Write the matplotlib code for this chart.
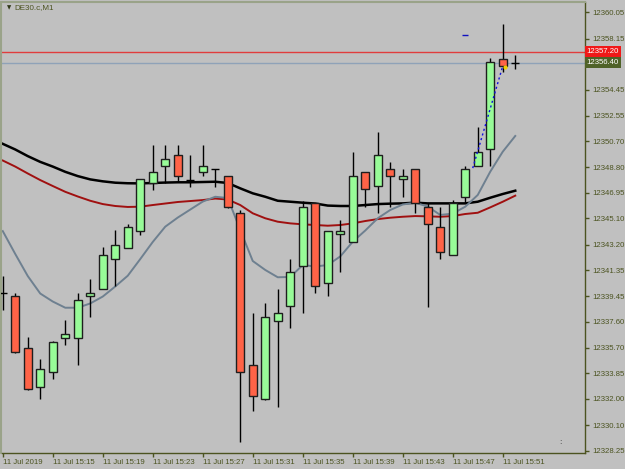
import matplotlib
matplotlib.use("Agg")
import matplotlib.pyplot as plt
import matplotlib.transforms as mtransforms
import numpy as np

# --- DE30.c M1 candles, 15:11 .. 15:52 --- #
opens = [12339.70, 12339.47, 12335.68, 12332.89, 12333.94, 12336.45, 12336.42, 12339.45,
         12339.96, 12342.15, 12342.95, 12344.21, 12347.64, 12348.90, 12349.70, 12347.91,
         12348.44, 12348.68, 12348.15, 12345.47, 12334.44, 12331.98, 12337.68, 12338.72,
         12341.65, 12346.19, 12340.39, 12343.94, 12343.41, 12348.44, 12347.45, 12348.66,
         12347.93, 12348.66, 12345.90, 12344.45, 12342.42, 12346.67, 12348.90, 12350.13,
         12356.66, 12356.40]
highs = [12340.92, 12339.67, 12336.47, 12334.92, 12336.20, 12337.73, 12339.67, 12340.70,
         12343.00, 12344.24, 12344.71, 12347.95, 12350.44, 12350.44, 12350.44, 12349.70,
         12350.44, 12348.70, 12348.20, 12345.71, 12338.26, 12338.94, 12339.96, 12342.15,
         12346.38, 12346.19, 12344.21, 12344.98, 12349.94, 12348.44, 12351.39, 12349.19,
         12348.66, 12348.66, 12346.19, 12345.90, 12346.43, 12348.92, 12351.71, 12356.71,
         12359.20, 12356.95]
lows = [12338.45, 12335.35, 12332.65, 12331.98, 12333.43, 12335.92, 12334.44, 12337.92,
        12339.95, 12340.17, 12342.95, 12343.87, 12347.16, 12347.64, 12347.76, 12347.40,
        12348.17, 12347.40, 12345.85, 12328.90, 12331.15, 12331.95, 12331.44, 12337.17,
        12338.21, 12339.67, 12339.47, 12341.19, 12343.41, 12345.90, 12345.47, 12345.90,
        12346.67, 12345.47, 12338.69, 12342.15, 12342.42, 12346.19, 12348.90, 12348.92,
        12355.74, 12355.91]
closes = [12339.66, 12335.41, 12332.70, 12334.15, 12336.15, 12336.69, 12339.16, 12339.67,
          12342.44, 12343.17, 12344.45, 12347.93, 12348.44, 12349.41, 12348.15, 12347.91,
          12348.92, 12348.68, 12345.90, 12333.94, 12332.22, 12337.92, 12338.21, 12341.19,
          12345.90, 12340.19, 12344.21, 12344.21, 12348.15, 12347.21, 12349.70, 12348.17,
          12348.15, 12346.19, 12344.67, 12342.68, 12346.19, 12348.68, 12349.94, 12356.46,
          12356.15, 12356.40]

# moving averages
ma_slow = [12350.51, 12350.10, 12349.62, 12349.20, 12348.86, 12348.48, 12348.17, 12347.93,
           12347.79, 12347.69, 12347.65, 12347.64, 12347.67, 12347.70, 12347.72, 12347.72,
           12347.74, 12347.76, 12347.67, 12347.28, 12346.92, 12346.67, 12346.38, 12346.31,
           12346.24, 12346.18, 12346.03, 12346.00, 12346.00, 12346.07, 12346.14, 12346.17,
           12346.19, 12346.24, 12346.19, 12346.19, 12346.19, 12346.19, 12346.31, 12346.60,
           12346.87, 12347.11]
ma_mid = [12349.30, 12348.86, 12348.36, 12347.88, 12347.45, 12347.03, 12346.69, 12346.38,
          12346.14, 12346.00, 12345.93, 12345.95, 12346.07, 12346.18, 12346.29, 12346.36,
          12346.43, 12346.54, 12346.47, 12346.07, 12345.47, 12345.11, 12344.86, 12344.74,
          12344.67, 12344.62, 12344.57, 12344.62, 12344.74, 12344.91, 12345.05, 12345.15,
          12345.22, 12345.27, 12345.25, 12345.22, 12345.27, 12345.42, 12345.51, 12345.90,
          12346.31, 12346.75]
ma_fast = [12344.18, 12342.52, 12340.92, 12339.65, 12339.07, 12338.62, 12338.62, 12338.93,
           12339.43, 12340.16, 12340.94, 12342.15, 12343.39, 12344.50, 12345.16, 12345.74,
           12346.32, 12346.67, 12346.58, 12344.26, 12342.01, 12341.36, 12340.83, 12340.85,
           12341.72, 12341.61, 12341.72, 12342.34, 12343.41, 12344.22, 12345.11, 12345.71,
           12346.11, 12346.24, 12345.96, 12345.35, 12345.45, 12345.95, 12346.80, 12348.49,
           12349.94, 12351.08]

# dotted projection line and a marker near the top
proj_x = [37.6, 40.0]
proj_y = [12348.75, 12356.15]
marker_bar = 37
marker_price = 12358.40

bid_price = 12356.40
ask_price = 12357.20

price_ticks = [12360.05, 12358.15, 12354.45, 12352.55, 12350.70, 12348.80, 12346.95,
               12345.10, 12343.20, 12341.35, 12339.45, 12337.60, 12335.70, 12333.85,
               12332.00, 12330.10, 12328.25]
time_ticks = list(range(0, 41, 4))
time_labels = ['11 Jul 2019', '11 Jul 15:15', '11 Jul 15:19', '11 Jul 15:23',
               '11 Jul 15:27', '11 Jul 15:31', '11 Jul 15:35', '11 Jul 15:39',
               '11 Jul 15:43', '11 Jul 15:47', '11 Jul 15:51']

BG = '#C0C0C0'
AXIS = '#4B5320'
UP = '#98FB98'
DOWN = '#FF6347'
BODY_W = 0.64

fig = plt.figure(figsize=(6.25, 4.69), dpi=100, facecolor=BG)
ax = fig.add_axes([1.5 / 625, 16 / 469, 583.5 / 625, 451 / 469], facecolor=BG)

x = np.arange(len(opens))
o = np.array(opens)
h = np.array(highs)
l = np.array(lows)
c = np.array(closes)

# indicators under the candles
ax.axhline(ask_price, color='#E03C3C', lw=1, zorder=1)
ax.axhline(bid_price, color='#8FA2B8', lw=1, zorder=1)
ax.plot(x, ma_slow, color='black', lw=1.8, zorder=2)
ax.plot(x, ma_mid, color='#A01010', lw=1.4, zorder=2)
ax.plot(x, ma_fast, color='#6E8090', lw=1.4, zorder=2)

ax.vlines(x, l, h, color='black', lw=1, zorder=3)
for i in range(len(x)):
    if abs(c[i] - o[i]) < 0.05:
        ax.hlines(o[i], x[i] - BODY_W / 2, x[i] + BODY_W / 2, color='black', lw=1, zorder=4)
        continue
    col = UP if c[i] > o[i] else DOWN
    ax.bar(x[i], abs(c[i] - o[i]), bottom=min(o[i], c[i]), width=BODY_W,
           color=col, edgecolor='#1E1E1E', linewidth=1, zorder=4)

ax.plot(proj_x, proj_y, color='#1010E0', lw=1, ls=(0, (1.5, 2)), zorder=5)
ax.plot([40.15], [12356.05], marker='o', ms=2, color='#F0D000', zorder=6)
ax.hlines(marker_price, marker_bar - 0.25, marker_bar + 0.25, color='#1010C0', lw=1, zorder=5)

ax.set_xlim(-0.1, 46.58)
ax.set_ylim(12328.08, 12360.80)

ax.yaxis.tick_right()
ax.set_yticks(price_ticks)
ax.set_yticklabels([f'{p:.2f}' for p in price_ticks])
ax.set_xticks(time_ticks)
ax.set_xticklabels(time_labels)
for lab in ax.get_xticklabels():
    lab.set_horizontalalignment('left')
ax.tick_params(axis='both', colors=AXIS, length=3, width=1, labelsize=5.6,
               labelfontfamily='Liberation Sans')
ax.tick_params(axis='y', pad=2)
ax.tick_params(axis='x', pad=1)

for side in ['right', 'bottom']:
    ax.spines[side].set_color(AXIS)
    ax.spines[side].set_linewidth(1)
for side in ['left', 'top']:
    ax.spines[side].set_color('#9AA389')
    ax.spines[side].set_linewidth(1.5)

# price boxes on the right axis
trans = mtransforms.blended_transform_factory(ax.transAxes, ax.transData)
ax.text(1.003, ask_price, f'{ask_price:.2f}', transform=trans, ha='left', va='center',
        color='white', fontsize=5.6, family='Liberation Sans', clip_on=False,
        bbox=dict(boxstyle='square,pad=0.25', fc='#F01818', ec='none'))
ax.text(1.003, bid_price, f'{bid_price:.2f}', transform=trans, ha='left', va='center',
        color='white', fontsize=5.6, family='Liberation Sans', clip_on=False,
        bbox=dict(boxstyle='square,pad=0.25', fc='#4F6228', ec='none'))

fig.text(7 / 625, 1 - 8 / 469, '\u25bc', color='#303818', fontsize=4, va='center')
fig.text(14 / 625, 1 - 8 / 469, 'DE30.c,M1', color=AXIS, fontsize=5.8,
         family='Liberation Sans', va='center')
ax.text(0.955, 0.024, ':', transform=ax.transAxes, color='#303030', fontsize=5, va='center')

fig.savefig('out.png', dpi=100, facecolor=BG)
